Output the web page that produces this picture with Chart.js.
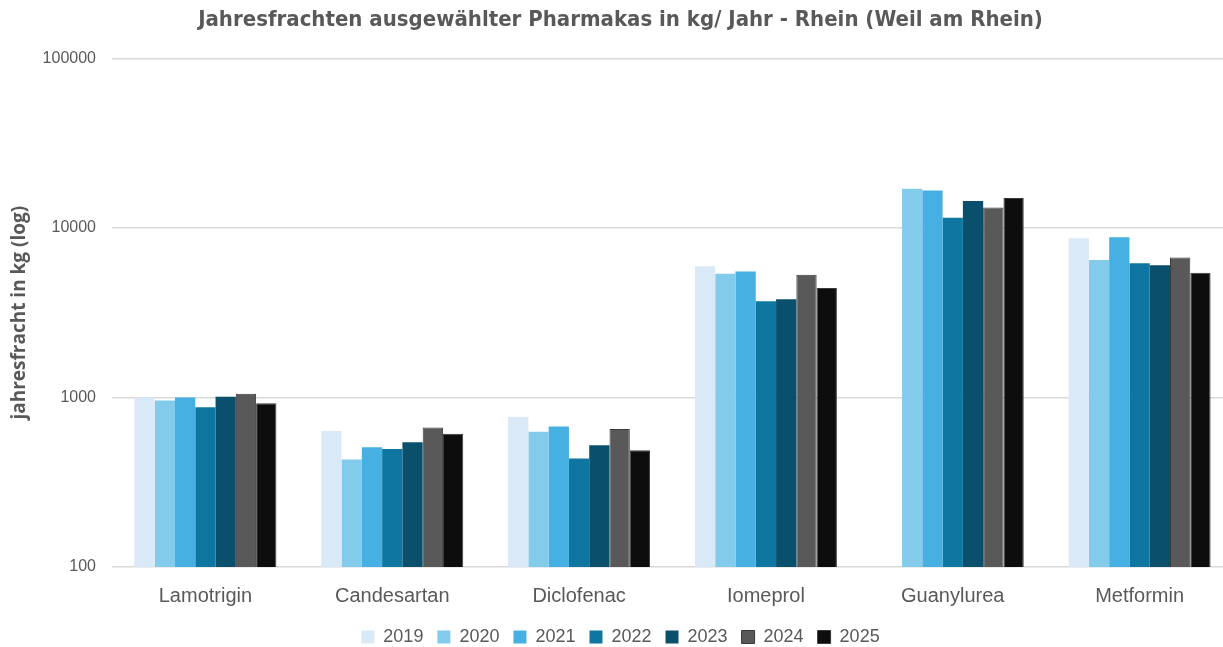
<!DOCTYPE html>
<html>
<head>
<meta charset="utf-8">
<script src="https://cdn.jsdelivr.net/npm/chart.js@4"></script>
<style>
  html, body { margin: 0; padding: 0; background: #fff; overflow: hidden; }
  #wrap { width: 1240px; height: 647px; }
</style>
</head>
<body>
<div id="wrap"><canvas id="frachtChart" width="1240" height="647"></canvas></div>
<script>
(function () {
    // Kategorien
    const labels = ['Lamotrigin', 'Candesartan', 'Diclofenac', 'Iomeprol', 'Guanylurea', 'Metformin'];

    // Jahresfrachten je Jahr (kg)
    const years = ['2019', '2020', '2021', '2022', '2023', '2024', '2025'];
    const y2019 = [1000, 634, 766, 5950, null, 8700];
    const y2020 = [960, 430, 628, 5360, 17000, 6460];
    const y2021 = [1000, 508, 675, 5530, 16600, 8820];
    const y2022 = [877, 497, 436, 3690, 11500, 6200];
    const y2023 = [1010, 544, 522, 3800, 14400, 6030];
    const y2024 = [1050, 666, 651, 5290, 13200, 6690];
    const y2025 = [925, 611, 488, 4420, 15000, 5440];

    // Achsenbeschriftung
    const yTicks = [100, 1000, 10000, 100000];

    // Farben
    const colors = ['#DAE9F8', '#83CBEB', '#45B0E1', '#0E76A0', '#0A4F6B', '#595959', '#0D0D0D'];

    const series = [y2019, y2020, y2021, y2022, y2023, y2024, y2025];
    const grey = '#595959';

    // Legendenhöhe fest, damit Diagrammfläche passt
    const legendHeight = {
        id: 'legendHeight',
        afterInit(chart) {
            const lg = chart.legend;
            const fit = lg.fit.bind(lg);
            lg.fit = function () {
                fit();
                this.height = 33;
            };
        },
    };

    const ctx = document.getElementById('frachtChart').getContext('2d');
    new Chart(ctx, {
        type: 'bar',
        data: {
            labels: labels,
            datasets: series.map((d, i) => ({
                label: years[i],
                data: d,
                backgroundColor: colors[i],
                borderColor: i >= 5 ? '#3a3a3a' : colors[i],
                borderWidth: i >= 5 ? 1 : 0,
                barPercentage: 1.0,
                categoryPercentage: 0.76,
            })),
        },
        plugins: [legendHeight],
        options: {
            responsive: false,
            animation: false,
            layout: { padding: { left: 8, right: 7, top: 4, bottom: 0 } },
            scales: {
                x: {
                    grid: { display: false },
                    border: { display: false },
                    afterFit: (scale) => {
                        scale.height = 47;
                    },
                    ticks: { color: grey, font: { family: 'Liberation Sans', size: 20 }, padding: 9 },
                },
                y: {
                    type: 'logarithmic',
                    min: 100,
                    max: 100000,
                    afterBuildTicks: (scale) => {
                        scale.ticks = yTicks.map((v) => ({ value: v }));
                    },
                    afterFit: (scale) => {
                        scale.width = 104;
                    },
                    grid: { color: '#d9d9d9', lineWidth: 1.5, drawTicks: false },
                    border: { display: false },
                    ticks: {
                        color: grey,
                        font: { family: 'Liberation Sans', size: 16 },
                        padding: 16,
                        callback: (v) => String(v),
                    },
                    title: {
                        display: true,
                        text: 'jahresfracht in kg (log)',
                        color: grey,
                        font: { family: 'Open Sans', size: 19, weight: 'bold' },
                        padding: { top: 0, bottom: 2 },
                    },
                },
            },
            plugins: {
                title: {
                    display: true,
                    text: 'Jahresfrachten ausgewählter Pharmakas in kg/ Jahr - Rhein (Weil am Rhein)',
                    color: grey,
                    font: { family: "'DejaVu Sans Condensed', 'Liberation Sans Narrow', Roboto", size: 22, weight: 'bold' },
                    padding: { top: 3, bottom: 25 },
                },
                legend: {
                    position: 'bottom',
                    labels: {
                        color: grey,
                        boxWidth: 13,
                        boxHeight: 13,
                        padding: 14,
                        font: { family: 'Liberation Sans', size: 18 },
                    },
                },
                tooltip: { enabled: false },
            },
        },
    });
})();
</script>
</body>
</html>
